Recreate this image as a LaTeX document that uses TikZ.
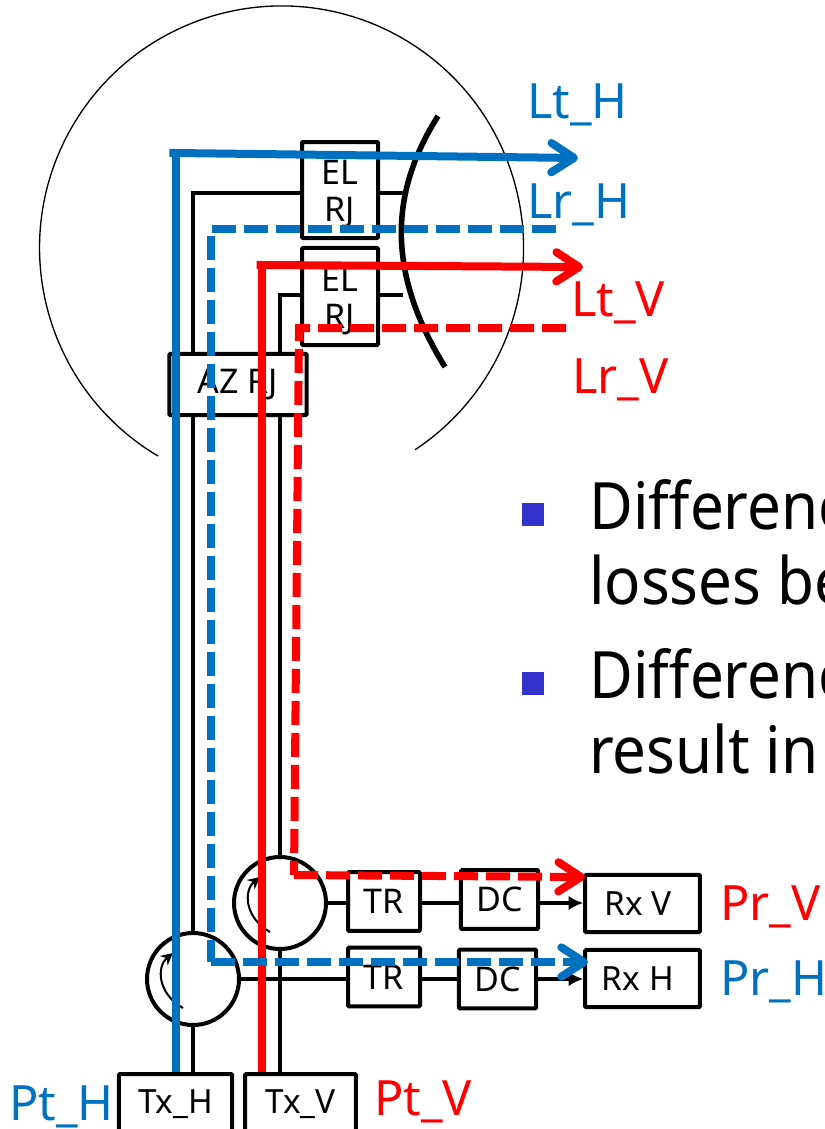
\documentclass[tikz,border=0pt]{standalone}
\usepackage{fontspec}
\setmainfont{Noto Sans}
\newfontfamily\slidefont[FakeStretch=0.92]{Noto Sans}
\usetikzlibrary{arrows.meta}
\definecolor{lineblue}{HTML}{0070C0}
\definecolor{linered}{HTML}{FF0000}
\definecolor{bulletblue}{HTML}{3333CC}
\tikzset{
  rjbox/.style={draw,line width=3pt,rounded corners=0.8pt,fill=white,inner sep=0pt,align=center,font=\fontsize{25.5}{27.75}\selectfont},
  rxbox/.style={rjbox,font=\fontsize{25}{27}\selectfont},
  circulator/.style={draw,circle,line width=3pt,fill=white,minimum size=69pt,inner sep=0pt},
  feed/.style={line width=3pt},
  txline/.style={line width=6pt},
  rxline/.style={line width=6pt,dash pattern=on 18pt off 6pt},
  barb/.style={-{Straight Barb[length=17pt,width=22pt,line width=6pt,round]}},
  biglabel/.style={anchor=base west,inner sep=0pt,font=\fontsize{36.5}{40}\selectfont},
  slidetext/.style={anchor=base west,inner sep=0pt,font=\slidefont\fontsize{49}{52}\selectfont}
}
\begin{document}
\begin{tikzpicture}[x=0.75pt,y=-0.75pt]
    \useasboundingbox (0,0) rectangle (825,1129);
    \clip (0,0) rectangle (825,1129);

    % Radome
    \draw[line width=1pt] (158,456) arc (120.7:416.5:242);

    % Dish
    \draw[line width=4.2pt] (438,116) .. controls (388,195) and (388,275) .. (445,367);

    % Boxes
    \node[rjbox,minimum width=57pt,minimum height=72pt] (elh) at (340,190) {\rule{0pt}{25pt}EL\\RJ};
    \node[rjbox,minimum width=57pt,minimum height=73pt] (elv) at (340,296.5) {\rule{0pt}{25pt}EL\\RJ};
    \node[rjbox,minimum width=103pt,minimum height=46pt] (az) at (238,384.5) {AZ RJ};
    \node[circulator] (cirv) at (280,903) {};
    \node[circulator] (cirh) at (193,979) {};
    \node[rjbox,minimum width=54pt,minimum height=44pt] (trv) at (384,901.5) {TR};
    \node[rjbox,minimum width=54pt,minimum height=44pt] (trh) at (384,977) {TR};
    \node[rjbox,minimum width=58pt,minimum height=44pt] (dcv) at (499.5,899.5) {DC};
    \node[rjbox,minimum width=58pt,minimum height=44pt] (dch) at (497.5,979) {DC};
    \node[rxbox,minimum width=86pt,minimum height=43pt] (rxv) at (642.5,903.5) {Rx V\hspace{7pt}};
    \node[rxbox,minimum width=86pt,minimum height=43pt] (rxh) at (642.5,978.5) {Rx H\hspace{7pt}};
    \node[rxbox,minimum width=85pt,minimum height=45pt] (txh) at (175.5,1104) {Tx\_H};
    \node[rxbox,minimum width=83pt,minimum height=45pt] (txv) at (300.5,1104) {Tx\_V};

    % Feed lines
    \coordinate (feedh) at (193,193);
    \coordinate (feedv) at (280,295);
    \coordinate (dishh) at (405,193);
    \coordinate (dishv) at (403,295);
    \draw[feed] (txh.north -| cirh) -- (cirh.south);
    \draw[feed] (cirh.north) -- (az.south -| cirh);
    \draw[feed] (az.north -| cirh) -- (feedh) -- (elh.west |- feedh);
    \draw[feed] (txv.north -| cirv) -- (cirv.south);
    \draw[feed] (cirv.north) -- (az.south -| cirv);
    \draw[feed] (az.north -| cirv) -- (feedv) -- (elv.west |- feedv);
    \draw[feed] (elh.east |- dishh) -- (dishh);
    \draw[feed] (elv.east |- dishv) -- (dishv);
    \draw[feed] (cirh.east) -- (trh.west |- cirh);
    \draw[feed] (cirv.east) -- (trv.west |- cirv);
    \draw[feed] (trh.east |- cirh) -- (dch.west |- cirh);
    \draw[feed] (trv.east |- cirv) -- (dcv.west |- cirv);
    \draw[feed,-{Latex[length=11pt,width=11pt]}] (dch.east |- cirh) -- (rxh.west |- cirh);
    \draw[feed,-{Latex[length=11pt,width=11pt]}] (dcv.east |- cirv) -- (rxv.west |- cirv);

    % Circulator arrows
    \foreach \cname in {cirv,cirh}
        \draw[line width=1.5pt,-{Stealth[length=9pt,width=9pt]}] ([shift={(-10,29)}]\cname.center)
            .. controls ([shift={(-35,15)}]\cname.center) and ([shift={(-37,-12)}]\cname.center) .. ([shift={(-20,-26)}]\cname.center);

    % Transmit paths
    \coordinate (cornerth) at (176,153);
    \coordinate (endth) at (578,158);
    \coordinate (cornertv) at (262,265);
    \coordinate (endtv) at (583,267);
    \draw[txline,lineblue] (txh.north -| cornerth) -- (cornerth);
    \draw[txline,lineblue,barb,shorten <=-5pt] (cornerth) -- (endth);
    \draw[txline,linered] (txv.north -| cornertv) -- (cornertv);
    \draw[txline,linered,barb,shorten <=-4pt] (cornertv) -- (endtv);

    % Receive paths
    \coordinate (startrh) at (556,229);
    \coordinate (cornerrh) at (211,229);
    \coordinate (cornerrh2) at (211,962);
    \coordinate (endrh) at (588,962);
    \coordinate (startrv) at (566,328);
    \coordinate (cornerrv) at (299,328);
    \coordinate (cornerrv2) at (294,875);
    \coordinate (endrv) at (585,877);
    \draw[rxline,lineblue] (startrh) -- (cornerrh) -- (cornerrh2);
    \draw[rxline,lineblue,barb] (cornerrh2) -- (endrh);
    \draw[rxline,linered] (startrv) -- (cornerrv) -- (cornerrv2);
    \draw[rxline,linered,barb] (cornerrv2) -- (endrv);

    % Labels
    \node[biglabel,lineblue] (lth) at (527,118) {Lt\_H};
    \node[biglabel,lineblue] (lrh) at (527,218) {Lr\_H};
    \node[biglabel,linered] (ltv) at (571,316) {Lt\_V};
    \node[biglabel,linered] (lrv) at (572,393) {Lr\_V};
    \node[biglabel,linered] (prv) at (720,920) {Pr\_V};
    \node[biglabel,lineblue] (prh) at (720,995) {Pr\_H};
    \node[biglabel,lineblue] (pth) at (9,1120) {Pt\_H};
    \node[biglabel,linered] (ptv) at (374,1115) {Pt\_V};

    % Slide text
    \fill[bulletblue] (522,503) rectangle (544,526);
    \fill[bulletblue] (522,672) rectangle (544,695);
    \node[slidetext] (diffa) at (589,529) {Differenc};
    \node[slidetext] (lossa) at (589,604) {losses be};
    \node[slidetext] (diffb) at (589,698) {Differenc};
    \node[slidetext] (resb) at (589,773) {result in};
\end{tikzpicture}
\end{document}
